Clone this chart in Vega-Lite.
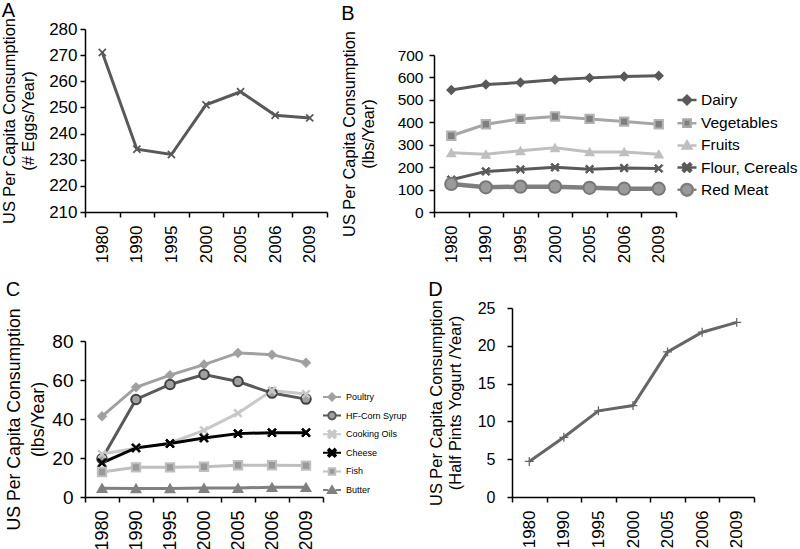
{
  "$schema": "https://vega.github.io/schema/vega-lite/v6.json",
  "background": "white",
  "padding": {"left": 1, "top": 0, "right": 0, "bottom": 0},
  "config": {
    "font": "Liberation Sans",
    "view": {"stroke": null},
    "axis": {"domainColor": "#000", "tickColor": "#000", "grid": false, "labelColor": "#000", "titleColor": "#000", "labelFontWeight": "normal", "titleFontWeight": "normal", "domainWidth": 1.5, "tickWidth": 1.5, "tickSize": 5, "titleLineHeight": 19},
    "title": {"anchor": "start", "frame": "bounds", "fontSize": 20, "fontWeight": "normal", "color": "#000"},
    "legend": {"labelColor": "#000"}
  },
  "spacing": 16,
  "resolve": {
    "scale": {"color": "independent", "fill": "independent", "stroke": "independent"},
    "legend": {"color": "independent", "fill": "independent", "stroke": "independent"}
  },
  "vconcat": [
    {
      "hconcat": [
        {
          "title": {"text": "A", "offset": -3},
          "width": 242,
          "height": 183,
          "data": {"values": [
            {"year": "1980", "v": 271}, {"year": "1990", "v": 234}, {"year": "1995", "v": 232}, {"year": "2000", "v": 251},
            {"year": "2005", "v": 256}, {"year": "2006", "v": 247}, {"year": "2009", "v": 246}
          ]},
          "encoding": {
            "x": {"field": "year", "type": "ordinal", "scale": {"type": "band", "paddingInner": 0, "paddingOuter": 0}, "axis": {"title": null, "labelAngle": -90, "tickBand": "extent", "labelFontSize": 17, "labelPadding": 8}},
            "y": {"field": "v", "type": "quantitative", "scale": {"domain": [210, 280], "zero": false, "nice": false}, "axis": {"values": [210, 220, 230, 240, 250, 260, 270, 280], "title": ["US Per Capita Consumption", "(# Eggs/Year)"], "titleFontSize": 16.4, "labelFontSize": 17, "labelPadding": 3, "titlePadding": 12}}
          },
          "layer": [
            {"mark": {"type": "line", "color": "#595959", "strokeWidth": 3}},
            {"mark": {"type": "point", "filled": true, "shape": "M-1,-0.7L-0.7,-1L0,-0.3L0.7,-1L1,-0.7L0.3,0L1,0.7L0.7,1L0,0.3L-0.7,1L-1,0.7L-0.3,0Z", "size": 70, "color": "#595959", "opacity": 1}}
          ]
        },
        {
          "title": {"text": "B", "offset": 5},
          "width": 242,
          "height": 183,
          "data": {"values": [
            {"series": "Dairy", "year": "1980", "v": 544}, {"series": "Dairy", "year": "1990", "v": 568}, {"series": "Dairy", "year": "1995", "v": 577}, {"series": "Dairy", "year": "2000", "v": 590}, {"series": "Dairy", "year": "2005", "v": 598}, {"series": "Dairy", "year": "2006", "v": 604}, {"series": "Dairy", "year": "2009", "v": 607},
            {"series": "Vegetables", "year": "1980", "v": 340}, {"series": "Vegetables", "year": "1990", "v": 391}, {"series": "Vegetables", "year": "1995", "v": 415}, {"series": "Vegetables", "year": "2000", "v": 426}, {"series": "Vegetables", "year": "2005", "v": 415}, {"series": "Vegetables", "year": "2006", "v": 403}, {"series": "Vegetables", "year": "2009", "v": 391},
            {"series": "Fruits", "year": "1980", "v": 264}, {"series": "Fruits", "year": "1990", "v": 257}, {"series": "Fruits", "year": "1995", "v": 273}, {"series": "Fruits", "year": "2000", "v": 286}, {"series": "Fruits", "year": "2005", "v": 268}, {"series": "Fruits", "year": "2006", "v": 268}, {"series": "Fruits", "year": "2009", "v": 258},
            {"series": "Flour, Cereals", "year": "1980", "v": 144}, {"series": "Flour, Cereals", "year": "1990", "v": 181}, {"series": "Flour, Cereals", "year": "1995", "v": 190}, {"series": "Flour, Cereals", "year": "2000", "v": 199}, {"series": "Flour, Cereals", "year": "2005", "v": 191}, {"series": "Flour, Cereals", "year": "2006", "v": 196}, {"series": "Flour, Cereals", "year": "2009", "v": 194},
            {"series": "Red Meat", "year": "1980", "v": 125}, {"series": "Red Meat", "year": "1990", "v": 110}, {"series": "Red Meat", "year": "1995", "v": 113}, {"series": "Red Meat", "year": "2000", "v": 113}, {"series": "Red Meat", "year": "2005", "v": 108}, {"series": "Red Meat", "year": "2006", "v": 104}, {"series": "Red Meat", "year": "2009", "v": 104}
          ]},
          "encoding": {
            "x": {"field": "year", "type": "ordinal", "scale": {"type": "band", "paddingInner": 0, "paddingOuter": 0}, "axis": {"title": null, "labelAngle": -90, "tickBand": "extent", "labelFontSize": 17, "labelPadding": 8}},
            "y": {"field": "v", "type": "quantitative", "scale": {"domain": [0, 700], "nice": false, "range": [183, 26]}, "axis": {"values": [0, 100, 200, 300, 400, 500, 600, 700], "title": ["US Per Capita Consumption", "(lbs/Year)"], "titleFontSize": 16.4, "labelFontSize": 15.5, "labelPadding": 6, "titlePadding": 21}}
          },
          "layer": [
            {
              "mark": {"type": "line", "strokeWidth": 3},
              "encoding": {
                "color": {"field": "series", "type": "nominal",
                  "scale": {"domain": ["Dairy", "Vegetables", "Fruits", "Flour, Cereals", "Red Meat"], "range": ["#595959", "#a6a6a6", "#bfbfbf", "#595959", "#7f7f7f"]},
                  "legend": {"orient": "none", "legendX": 242, "legendY": 60, "title": null, "symbolSize": 361, "labelFontSize": 15.5, "labelOffset": 3, "rowPadding": 2.2,
                    "encode": {"symbols": {"update": {
                      "shape": {"signal": "['M-1,0H1M-0.45,0L0,-0.45L0.45,0L0,0.45Z','M-1,0H-0.38M0.38,0H1M-0.38,-0.38H0.38V0.38H-0.38Z','M-1,0H-0.4M0.4,0H1M0,-0.42L0.45,0.33L-0.45,0.33Z','M-1,0H1M-0.42,-0.29L-0.29,-0.42L0,-0.13L0.29,-0.42L0.42,-0.29L0.13,0L0.42,0.29L0.29,0.42L0,0.13L-0.29,0.42L-0.42,0.29L-0.13,0Z','M-1,0H-0.62M0.62,0H1M-0.62,0A0.62,0.62 0 1,0 0.62,0A0.62,0.62 0 1,0 -0.62,0Z'][indexof(['Dairy','Vegetables','Fruits','Flour, Cereals','Red Meat'], datum.value)]"},
                      "stroke": {"signal": "['#595959','#a6a6a6','#bfbfbf','#595959','#7a7a7a'][indexof(['Dairy','Vegetables','Fruits','Flour, Cereals','Red Meat'], datum.value)]"},
                      "fill": {"signal": "['#595959','#7f7f7f','#bfbfbf','#595959','#9a9a9a'][indexof(['Dairy','Vegetables','Fruits','Flour, Cereals','Red Meat'], datum.value)]"},
                      "strokeWidth": {"value": 2.5},
                      "size": {"value": 361},
                      "opacity": {"value": 1}
                    }}}
                  }
                }
              }
            },
            {"transform": [{"filter": "datum.series === 'Red Meat'"}], "mark": {"type": "line", "strokeWidth": 4.5, "color": "#7f7f7f"}},
            {"transform": [{"filter": "datum.series === 'Dairy'"}], "mark": {"type": "point", "shape": "diamond", "size": 70, "strokeWidth": 1.5, "fill": "#595959", "stroke": "#595959", "opacity": 1}},
            {"transform": [{"filter": "datum.series === 'Vegetables'"}], "mark": {"type": "point", "shape": "square", "size": 70, "strokeWidth": 2, "fill": "#7f7f7f", "stroke": "#b3b3b3", "opacity": 1}},
            {"transform": [{"filter": "datum.series === 'Fruits'"}], "mark": {"type": "point", "shape": "triangle-up", "size": 70, "strokeWidth": 1.5, "fill": "#bfbfbf", "stroke": "#bfbfbf", "opacity": 1}},
            {"transform": [{"filter": "datum.series === 'Flour, Cereals'"}], "mark": {"type": "point", "shape": "M-1,-0.7L-0.7,-1L0,-0.3L0.7,-1L1,-0.7L0.3,0L1,0.7L0.7,1L0,0.3L-0.7,1L-1,0.7L-0.3,0Z", "size": 70, "strokeWidth": 1, "fill": "#595959", "stroke": "#595959", "opacity": 1}},
            {"transform": [{"filter": "datum.series === 'Red Meat'"}], "mark": {"type": "point", "shape": "circle", "size": 150, "strokeWidth": 2, "fill": "#9a9a9a", "stroke": "#787878", "opacity": 1}}
          ]
        }
      ],
      "spacing": 13,
      "resolve": {
        "scale": {"color": "independent", "fill": "independent", "stroke": "independent"},
        "legend": {"color": "independent", "fill": "independent", "stroke": "independent"}
      }
    },
    {
      "hconcat": [
        {
          "title": {"text": "C", "offset": 8},
          "width": 238,
          "height": 189,
          "data": {"values": [
            {"series": "Poultry", "year": "1980", "v": 41.4}, {"series": "Poultry", "year": "1990", "v": 56.3}, {"series": "Poultry", "year": "1995", "v": 62.5}, {"series": "Poultry", "year": "2000", "v": 67.9}, {"series": "Poultry", "year": "2005", "v": 73.9}, {"series": "Poultry", "year": "2006", "v": 73}, {"series": "Poultry", "year": "2009", "v": 68.9},
            {"series": "HF-Corn Syrup", "year": "1980", "v": 19.6}, {"series": "HF-Corn Syrup", "year": "1990", "v": 50}, {"series": "HF-Corn Syrup", "year": "1995", "v": 57.7}, {"series": "HF-Corn Syrup", "year": "2000", "v": 62.8}, {"series": "HF-Corn Syrup", "year": "2005", "v": 59.2}, {"series": "HF-Corn Syrup", "year": "2006", "v": 53.3}, {"series": "HF-Corn Syrup", "year": "2009", "v": 50.2},
            {"series": "Cooking Oils", "year": "1980", "v": 22}, {"series": "Cooking Oils", "year": "1990", "v": 25}, {"series": "Cooking Oils", "year": "1995", "v": 27.7}, {"series": "Cooking Oils", "year": "2000", "v": 34.2}, {"series": "Cooking Oils", "year": "2005", "v": 43}, {"series": "Cooking Oils", "year": "2006", "v": 54.6}, {"series": "Cooking Oils", "year": "2009", "v": 52.8},
            {"series": "Cheese", "year": "1980", "v": 17.5}, {"series": "Cheese", "year": "1990", "v": 25.2}, {"series": "Cheese", "year": "1995", "v": 27.4}, {"series": "Cheese", "year": "2000", "v": 30.3}, {"series": "Cheese", "year": "2005", "v": 32.5}, {"series": "Cheese", "year": "2006", "v": 33}, {"series": "Cheese", "year": "2009", "v": 33},
            {"series": "Fish", "year": "1980", "v": 12.8}, {"series": "Fish", "year": "1990", "v": 15.2}, {"series": "Fish", "year": "1995", "v": 15.2}, {"series": "Fish", "year": "2000", "v": 15.5}, {"series": "Fish", "year": "2005", "v": 16.3}, {"series": "Fish", "year": "2006", "v": 16.3}, {"series": "Fish", "year": "2009", "v": 16.1},
            {"series": "Butter", "year": "1980", "v": 4.5}, {"series": "Butter", "year": "1990", "v": 4.4}, {"series": "Butter", "year": "1995", "v": 4.4}, {"series": "Butter", "year": "2000", "v": 4.6}, {"series": "Butter", "year": "2005", "v": 4.6}, {"series": "Butter", "year": "2006", "v": 5}, {"series": "Butter", "year": "2009", "v": 5}
          ]},
          "encoding": {
            "x": {"field": "year", "type": "ordinal", "scale": {"type": "band", "paddingInner": 0, "paddingOuter": 0}, "axis": {"title": null, "labelAngle": -90, "tickBand": "extent", "labelFontSize": 18, "labelPadding": 8}},
            "y": {"field": "v", "type": "quantitative", "scale": {"domain": [0, 80], "nice": false, "range": [189, 33]}, "axis": {"values": [0, 20, 40, 60, 80], "title": ["US Per Capita Consumption", "(lbs/Year)"], "titleFontSize": 17.7, "titleLineHeight": 24, "labelFontSize": 19, "labelPadding": 7, "titlePadding": 4}}
          },
          "layer": [
            {
              "mark": {"type": "line", "strokeWidth": 3},
              "encoding": {
                "color": {"field": "series", "type": "nominal",
                  "scale": {"domain": ["Poultry", "HF-Corn Syrup", "Cooking Oils", "Cheese", "Fish", "Butter"], "range": ["#a0a0a0", "#595959", "#c8c8c8", "#000000", "#bfbfbf", "#808080"]},
                  "legend": {"orient": "none", "legendX": 237, "legendY": 79, "title": null, "symbolSize": 324, "labelFontSize": 9, "labelOffset": 4, "rowPadding": 0.6,
                    "encode": {"symbols": {"update": {
                      "shape": {"signal": "['M-1,0H1M-0.4,0L0,-0.4L0.4,0L0,0.4Z','M-1,0H-0.42M0.42,0H1M-0.42,0A0.42,0.42 0 1,0 0.42,0A0.42,0.42 0 1,0 -0.42,0Z','M-1,0H1M-0.42,-0.29L-0.29,-0.42L0,-0.13L0.29,-0.42L0.42,-0.29L0.13,0L0.42,0.29L0.29,0.42L0,0.13L-0.29,0.42L-0.42,0.29L-0.13,0Z','M-1,0H1M-0.42,-0.29L-0.29,-0.42L0,-0.13L0.29,-0.42L0.42,-0.29L0.13,0L0.42,0.29L0.29,0.42L0,0.13L-0.29,0.42L-0.42,0.29L-0.13,0Z','M-1,0H-0.36M0.36,0H1M-0.36,-0.36H0.36V0.36H-0.36Z','M-1,0H-0.4M0.4,0H1M0,-0.42L0.45,0.33L-0.45,0.33Z'][indexof(['Poultry','HF-Corn Syrup','Cooking Oils','Cheese','Fish','Butter'], datum.value)]"},
                      "stroke": {"signal": "['#a0a0a0','#4d4d4d','#c8c8c8','#000000','#bfbfbf','#808080'][indexof(['Poultry','HF-Corn Syrup','Cooking Oils','Cheese','Fish','Butter'], datum.value)]"},
                      "fill": {"signal": "['#a0a0a0','#a0a0a0','#c8c8c8','#000000','#999999','#808080'][indexof(['Poultry','HF-Corn Syrup','Cooking Oils','Cheese','Fish','Butter'], datum.value)]"},
                      "strokeWidth": {"value": 2},
                      "size": {"value": 324},
                      "opacity": {"value": 1}
                    }}}
                  }
                }
              }
            },
            {"transform": [{"filter": "datum.series === 'Poultry'"}], "mark": {"type": "point", "shape": "diamond", "size": 70, "strokeWidth": 1.5, "fill": "#a0a0a0", "stroke": "#a0a0a0", "opacity": 1}},
            {"transform": [{"filter": "datum.series === 'HF-Corn Syrup'"}], "mark": {"type": "point", "shape": "circle", "size": 90, "strokeWidth": 2, "fill": "#a0a0a0", "stroke": "#404040", "opacity": 1}},
            {"transform": [{"filter": "datum.series === 'Cooking Oils'"}], "mark": {"type": "point", "shape": "M-1,-0.7L-0.7,-1L0,-0.3L0.7,-1L1,-0.7L0.3,0L1,0.7L0.7,1L0,0.3L-0.7,1L-1,0.7L-0.3,0Z", "size": 70, "strokeWidth": 1, "fill": "#c8c8c8", "stroke": "#c8c8c8", "opacity": 1}},
            {"transform": [{"filter": "datum.series === 'Cheese'"}], "mark": {"type": "point", "shape": "M-1,-0.7L-0.7,-1L0,-0.3L0.7,-1L1,-0.7L0.3,0L1,0.7L0.7,1L0,0.3L-0.7,1L-1,0.7L-0.3,0Z", "size": 80, "strokeWidth": 1, "fill": "#000000", "stroke": "#000000", "opacity": 1}},
            {"transform": [{"filter": "datum.series === 'Fish'"}], "mark": {"type": "point", "shape": "square", "size": 70, "strokeWidth": 2, "fill": "#999999", "stroke": "#bfbfbf", "opacity": 1}},
            {"transform": [{"filter": "datum.series === 'Butter'"}], "mark": {"type": "point", "shape": "triangle-up", "size": 90, "strokeWidth": 1.5, "fill": "#808080", "stroke": "#808080", "opacity": 1}}
          ]
        },
        {
          "title": {"text": "D", "offset": 0},
          "width": 242,
          "height": 189,
          "data": {"values": [
            {"year": "1980", "v": 4.7}, {"year": "1990", "v": 7.9}, {"year": "1995", "v": 11.4}, {"year": "2000", "v": 12.1},
            {"year": "2005", "v": 19.2}, {"year": "2006", "v": 21.8}, {"year": "2009", "v": 23.1}
          ]},
          "encoding": {
            "x": {"field": "year", "type": "ordinal", "scale": {"type": "band", "paddingInner": 0, "paddingOuter": 0}, "axis": {"title": null, "labelAngle": -90, "tickBand": "extent", "labelFontSize": 17, "labelPadding": 8}},
            "y": {"field": "v", "type": "quantitative", "scale": {"domain": [0, 25], "nice": false}, "axis": {"values": [0, 5, 10, 15, 20, 25], "title": ["US Per Capita Consumption", "(Half Pints Yogurt /Year)"], "titleFontSize": 16.4, "labelFontSize": 16, "labelPadding": 12, "titlePadding": 14}}
          },
          "layer": [
            {"mark": {"type": "line", "color": "#666666", "strokeWidth": 3}},
            {"mark": {"type": "point", "filled": true, "shape": "M-1,-0.14H-0.14V-1H0.14V-0.14H1V0.14H0.14V1H-0.14V0.14H-1Z", "size": 80, "color": "#666666", "opacity": 1}}
          ]
        }
      ],
      "spacing": 21,
      "resolve": {
        "scale": {"color": "independent", "fill": "independent", "stroke": "independent"},
        "legend": {"color": "independent", "fill": "independent", "stroke": "independent"}
      }
    }
  ]
}
